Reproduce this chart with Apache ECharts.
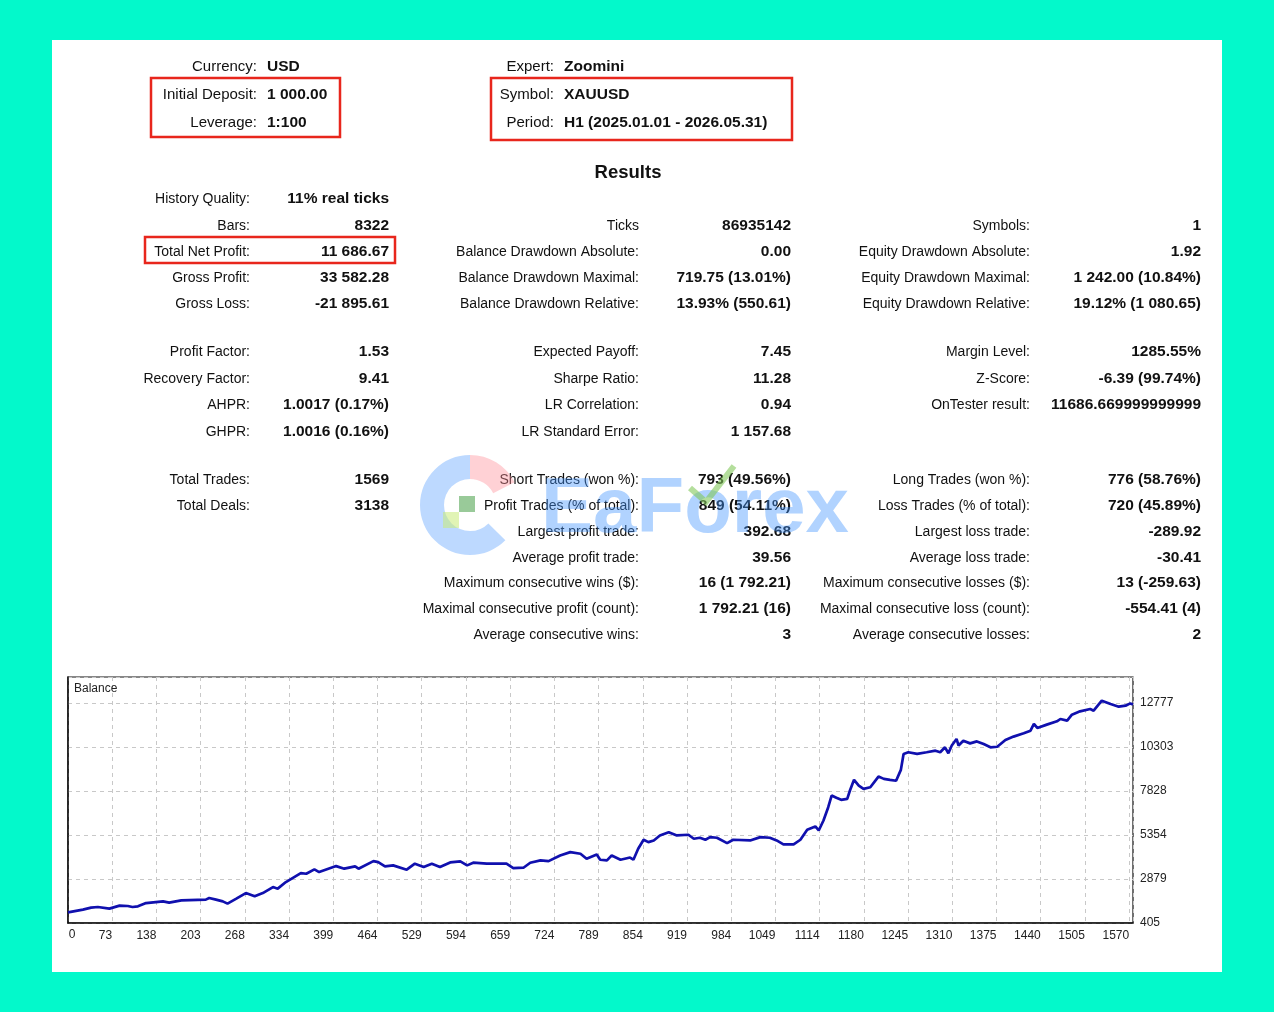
<!DOCTYPE html>
<html>
<head>
<meta charset="utf-8">
<script src="https://cdn.jsdelivr.net/npm/echarts@6/dist/echarts.min.js"></script>
<style>
  html, body { margin: 0; padding: 0; background: #03f9cb; }
  #sheet { position: absolute; left: 52px; top: 40px; width: 1170px; height: 932px; background: #fff; }
  #main { position: absolute; left: 0; top: 0; width: 1274px; height: 1012px; }
</style>
</head>
<body>
<div id="sheet"></div>
<div id="main"></div>
<script>
// balance curve (trade number -> balance)
var trades = [0, 22, 34, 44, 61, 66, 76, 88, 95, 103,
  115, 140, 149, 167, 203, 208, 218, 228, 235, 248,
  262, 275, 287, 302, 309, 321, 343, 351, 363, 370,
  395, 407, 423, 428, 450, 457, 467, 479, 499, 511,
  524, 536, 548, 563, 578, 588, 597, 617, 646, 656,
  671, 681, 696, 708, 725, 740, 755, 764, 779, 784,
  794, 801, 814, 828, 833, 840, 848, 855, 863, 872,
  885, 897, 914, 922, 931, 939, 946, 956, 971, 980,
  1005, 1020, 1034, 1044, 1054, 1069, 1079, 1089, 1101, 1106,
  1113, 1120, 1125, 1132, 1139, 1148, 1152, 1158, 1165, 1172,
  1182, 1194, 1202, 1211, 1220, 1227, 1231, 1238, 1251, 1265,
  1278, 1285, 1292, 1297, 1302, 1309, 1312, 1319, 1329, 1339,
  1349, 1359, 1369, 1381, 1393, 1408, 1418, 1423, 1428, 1442,
  1457, 1462, 1472, 1479, 1491, 1506, 1511, 1523, 1536, 1548,
  1558, 1565, 1569];
var balance = [1000, 1157, 1269, 1303, 1213, 1269, 1381, 1359, 1303, 1340,
  1527, 1622, 1547, 1679, 1718, 1808, 1718, 1622, 1493, 1774,
  2088, 1903, 2088, 2425, 2335, 2705, 3210, 3173, 3418, 3266,
  3603, 3457, 3586, 3457, 3883, 3827, 3586, 3643, 3401, 3737,
  3549, 3737, 3549, 3810, 3866, 3643, 3793, 3737, 3737, 3490,
  3512, 3793, 3922, 3883, 4203, 4388, 4298, 4018, 4259, 3961,
  3922, 4203, 3961, 4085, 3961, 4579, 5084, 4950, 5045, 5325,
  5510, 5325, 5364, 5140, 5196, 5084, 5230, 5196, 4893, 5084,
  5045, 5230, 5196, 5045, 4820, 4820, 5084, 5645, 5829, 5605,
  6167, 6913, 7569, 7439, 7327, 7383, 7850, 8450, 8130, 7945,
  8036, 8635, 8505, 8450, 8400, 9011, 9908, 10000, 9908, 10000,
  10090, 10000, 10279, 9945, 10380, 10750, 10380, 10650, 10500, 10610,
  10460, 10279, 10310, 10694, 10880, 11065, 11215, 11591, 11366, 11553,
  11740, 11870, 11777, 12113, 12300, 12430, 12338, 12899, 12711, 12562,
  12618, 12747, 12687];

var xLabels = ['0', '73', '138', '203', '268', '334', '399', '464', '529', '594', '659', '724',
  '789', '854', '919', '984', '1049', '1114', '1180', '1245', '1310', '1375', '1440', '1505', '1570'];
var yLabels = ['405', '2879', '5354', '7828', '10303', '12777'];

// report header
var headLeft = [['Currency:', 'USD'], ['Initial Deposit:', '1 000.00'], ['Leverage:', '1:100']];
var headRight = [['Expert:', 'Zoomini'], ['Symbol:', 'XAUUSD'], ['Period:', 'H1 (2025.01.01 - 2026.05.31)']];

// report rows: [row slot, label, value]
var col1 = [
  [0, 'History Quality:', '11% real ticks'],
  [1, 'Bars:', '8322'],
  [2, 'Total Net Profit:', '11 686.67'],
  [3, 'Gross Profit:', '33 582.28'],
  [4, 'Gross Loss:', '-21 895.61'],
  [5, 'Profit Factor:', '1.53'],
  [6, 'Recovery Factor:', '9.41'],
  [7, 'AHPR:', '1.0017 (0.17%)'],
  [8, 'GHPR:', '1.0016 (0.16%)'],
  [9, 'Total Trades:', '1569'],
  [10, 'Total Deals:', '3138']
];
var col2 = [
  [1, 'Ticks', '86935142'],
  [2, 'Balance Drawdown Absolute:', '0.00'],
  [3, 'Balance Drawdown Maximal:', '719.75 (13.01%)'],
  [4, 'Balance Drawdown Relative:', '13.93% (550.61)'],
  [5, 'Expected Payoff:', '7.45'],
  [6, 'Sharpe Ratio:', '11.28'],
  [7, 'LR Correlation:', '0.94'],
  [8, 'LR Standard Error:', '1 157.68'],
  [9, 'Short Trades (won %):', '793 (49.56%)'],
  [10, 'Profit Trades (% of total):', '849 (54.11%)'],
  [11, 'Largest profit trade:', '392.68'],
  [12, 'Average profit trade:', '39.56'],
  [13, 'Maximum consecutive wins ($):', '16 (1 792.21)'],
  [14, 'Maximal consecutive profit (count):', '1 792.21 (16)'],
  [15, 'Average consecutive wins:', '3']
];
var col3 = [
  [1, 'Symbols:', '1'],
  [2, 'Equity Drawdown Absolute:', '1.92'],
  [3, 'Equity Drawdown Maximal:', '1 242.00 (10.84%)'],
  [4, 'Equity Drawdown Relative:', '19.12% (1 080.65)'],
  [5, 'Margin Level:', '1285.55%'],
  [6, 'Z-Score:', '-6.39 (99.74%)'],
  [7, 'OnTester result:', '11686.669999999999'],
  [9, 'Long Trades (won %):', '776 (58.76%)'],
  [10, 'Loss Trades (% of total):', '720 (45.89%)'],
  [11, 'Largest loss trade:', '-289.92'],
  [12, 'Average loss trade:', '-30.41'],
  [13, 'Maximum consecutive losses ($):', '13 (-259.63)'],
  [14, 'Maximal consecutive loss (count):', '-554.41 (4)'],
  [15, 'Average consecutive losses:', '2']
];

var FONT = "'Liberation Sans', Arial, sans-serif";
var rowY = [199, 226, 252, 278, 304, 352, 379, 405, 432, 480, 506, 532, 558, 583, 609, 635];
var headY = [67, 95, 123];

function txt(x, y, s, align, size, weight, color) {
  return {
    type: 'text', x: x, y: y, z: 10,
    style: {
      text: s, textAlign: align, align: align,
      textVerticalAlign: 'middle', verticalAlign: 'middle',
      fontSize: size, fontWeight: weight || 'normal', fontFamily: FONT,
      fill: color || '#111'
    }
  };
}
function box(x, y, w, h) {
  return { type: 'rect', z: 11, shape: { x: x, y: y, width: w, height: h },
    style: { fill: 'none', stroke: '#e8261c', lineWidth: 2.5 } };
}

var els = [];
headLeft.forEach(function (r, i) {
  els.push(txt(257, headY[i], r[0], 'right', 15));
  els.push(txt(267, headY[i], r[1], 'left', 15.5, 'bold'));
});
headRight.forEach(function (r, i) {
  els.push(txt(554, headY[i], r[0], 'right', 15));
  els.push(txt(564, headY[i], r[1], 'left', 15.5, 'bold'));
});
els.push(txt(628, 173, 'Results', 'center', 18.5, 'bold'));

function addCol(rows, lx, vx) {
  rows.forEach(function (r) {
    els.push(txt(lx, rowY[r[0]], r[1], 'right', 14));
    els.push(txt(vx, rowY[r[0]], r[2], 'right', 15.5, 'bold'));
  });
}
addCol(col1, 250, 389);
addCol(col2, 639, 791);
addCol(col3, 1030, 1201);

els.push(box(151, 78, 189, 59));
els.push(box(491, 78, 301, 62));
els.push(box(145, 237, 250, 26));

// chart captions
els.push(txt(74, 689, 'Balance', 'left', 12, 'normal', '#222'));
els.push(txt(72, 935, '0', 'center', 12, 'normal', '#222'));

// watermark
els.push({ type: 'sector', z: 20, shape: { cx: 470, cy: 505, r: 50, r0: 26, startAngle: Math.PI * 0.25, endAngle: Math.PI * 1.5, clockwise: true },
  style: { fill: 'rgba(90,160,255,0.4)' } });
els.push({ type: 'sector', z: 20, shape: { cx: 470, cy: 505, r: 50, r0: 26, startAngle: Math.PI * 1.5, endAngle: Math.PI * 1.85, clockwise: true },
  style: { fill: 'rgba(255,140,150,0.4)' } });
els.push({ type: 'rect', z: 21, shape: { x: 459, y: 496, width: 16, height: 16 }, style: { fill: 'rgba(110,180,110,0.7)' } });
els.push({ type: 'rect', z: 21, shape: { x: 443, y: 512, width: 16, height: 16 }, style: { fill: 'rgba(200,235,120,0.55)' } });
els.push({ type: 'polyline', z: 21, shape: { points: [[690, 488], [706, 502], [734, 466]] },
  style: { stroke: 'rgba(130,200,90,0.6)', lineWidth: 6, fill: 'none' } });
els.push({
  type: 'text', x: 695, y: 510, z: 20,
  style: { text: 'EaForex', textAlign: 'center', align: 'center', textVerticalAlign: 'middle', verticalAlign: 'middle',
    fontSize: 78, fontWeight: 'bold', fontFamily: FONT, fill: 'rgba(70,150,255,0.42)' }
});

var grid = { color: '#c8c8c8', type: [4, 4], width: 1 };

var myChart = echarts.init(document.getElementById('main'));
var option = {
  animation: false,
  grid: { left: 68, top: 677, width: 1065, height: 246, show: true, borderColor: '#111', borderWidth: 1.2 },
  xAxis: {
    type: 'value', min: 0, max: 1569, interval: 65.14,
    axisLine: { show: true, lineStyle: { color: '#111', width: 1.5 } },
    axisTick: { show: false },
    splitLine: { show: true, lineStyle: grid },
    axisLabel: {
      align: 'right', margin: 7, fontSize: 12, color: '#222', fontFamily: FONT,
      formatter: function (v, i) { return i === 0 ? '' : (xLabels[i] || ''); }
    }
  },
  yAxis: {
    type: 'value', position: 'right', min: 405, max: 14230, interval: 2474.4,
    axisLine: { show: true, lineStyle: { color: '#111', width: 1.5 } },
    axisTick: { show: false },
    splitLine: { show: true, lineStyle: grid },
    axisLabel: {
      margin: 7, fontSize: 12, color: '#222', fontFamily: FONT,
      formatter: function (v, i) { return yLabels[i] || ''; }
    }
  },
  graphic: { elements: els },
  series: [{
    type: 'line',
    name: 'Balance',
    showSymbol: false,
    data: trades.map(function (t, i) { return [t, balance[i]]; }),
    lineStyle: { color: '#1010ae', width: 2.7 },
    itemStyle: { color: '#1010ae' }
  }]
};
myChart.setOption(option);
</script>
</body>
</html>
